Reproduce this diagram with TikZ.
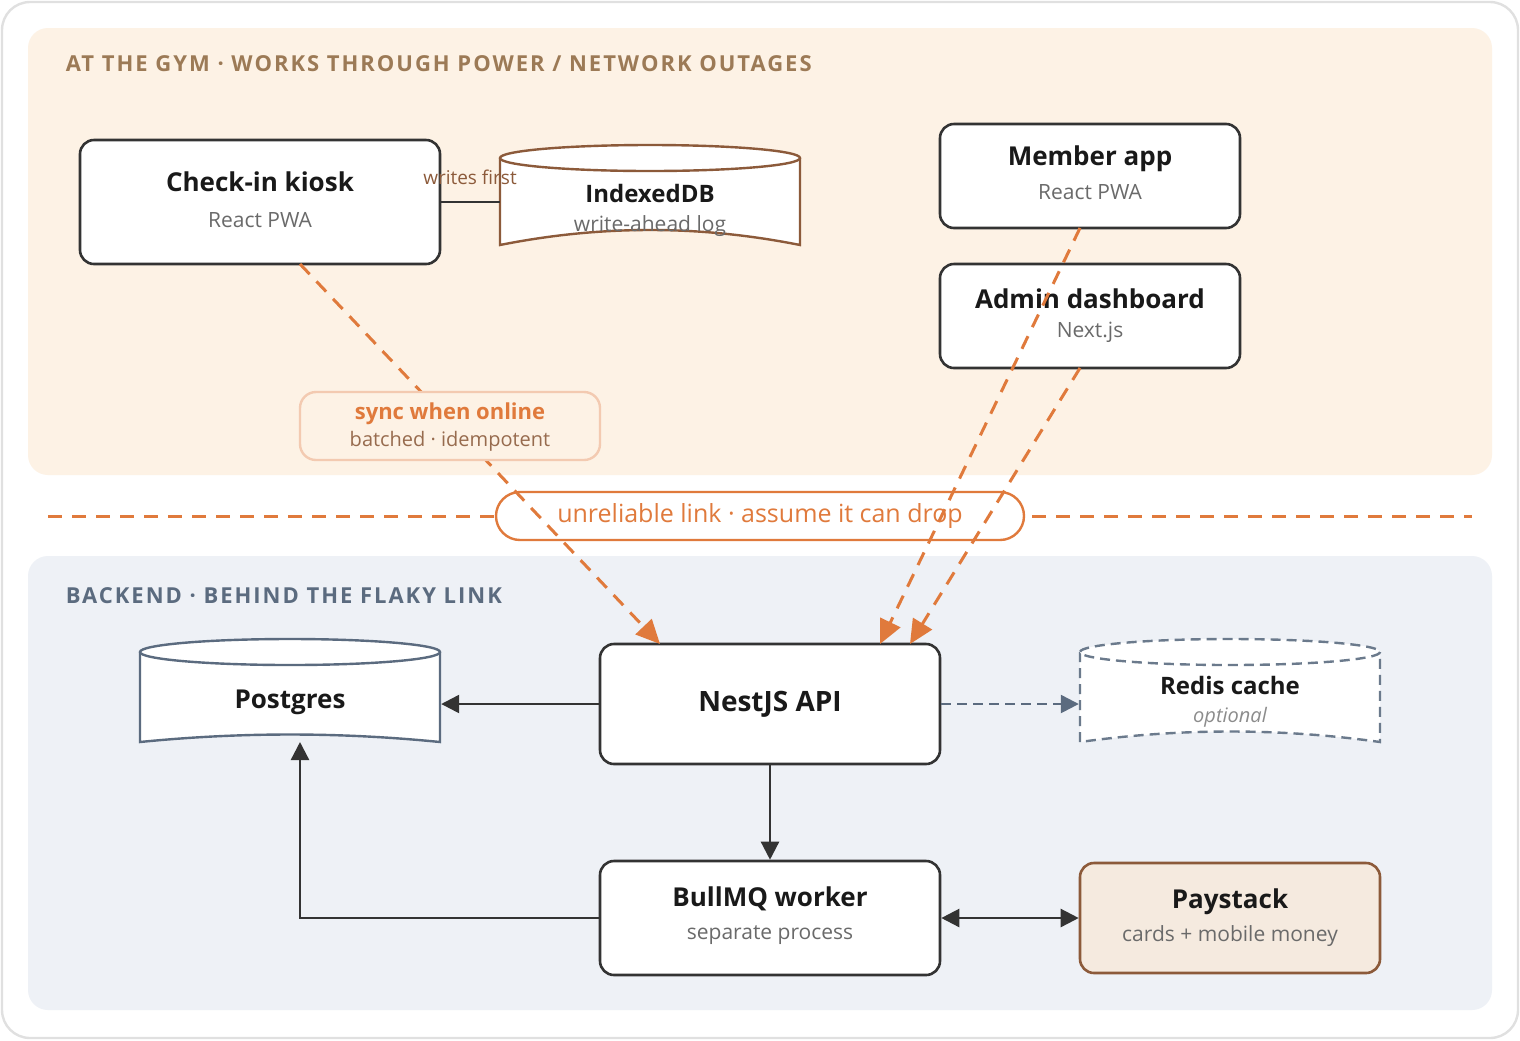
\documentclass[tikz,border=0pt]{standalone}
\usepackage{fontspec}
\setmainfont{Open Sans}
\usetikzlibrary{arrows.meta}
\definecolor{peach}{HTML}{FDF2E5}
\definecolor{slatebg}{HTML}{EEF1F6}
\definecolor{linkorange}{HTML}{E07A3C}
\definecolor{brownline}{HTML}{8C5A3A}
\definecolor{gymtitle}{HTML}{9C7A56}
\definecolor{slate}{HTML}{5B6B7F}
\definecolor{boxline}{HTML}{333333}
\definecolor{subgray}{HTML}{6A6A6A}
\definecolor{paybg}{HTML}{F5EADF}
\newfontfamily\capsfont[LetterSpace=9]{Open Sans}
\tikzset{
  every picture/.style={line width=1.2pt},
  appbox/.style={draw=boxline, fill=white, rounded corners=7pt, line width=1.3pt},
  mainlabel/.style={font=\fontsize{13}{15}\selectfont\bfseries, text=black!90},
  sublabel/.style={font=\fontsize{10.5}{13}\selectfont, text=subgray},
  solidarrow/.style={draw=boxline, line width=1.2pt, -{Triangle[length=9pt,width=9pt]}},
  syncarrow/.style={draw=linkorange, line width=1.5pt, dash pattern=on 7pt off 5pt, -{Triangle[length=12pt,width=11pt]}},
  cyl/.style={fill=white, line width=1.2pt},
}
\begin{document}
\begin{tikzpicture}[x=0.5pt,y=0.5pt,yscale=-1,xscale=1]
        \useasboundingbox (0,0) rectangle (1520,1040);
        % frame and panels
        \draw [draw=black!12, fill=white, rounded corners=14pt] (2,2) rectangle (1518,1038);
        \fill [peach, rounded corners=10pt] (28,28) rectangle (1492,475);
        \fill [slatebg, rounded corners=10pt] (28,556) rectangle (1492,1010);
        \node (gymtitle) [anchor=west, text=gymtitle, font=\capsfont\fontsize{11}{12}\selectfont\bfseries] at (58,64) {AT THE GYM · WORKS THROUGH POWER / NETWORK OUTAGES};
        \node (backtitle) [anchor=west, text=slate, font=\capsfont\fontsize{11}{12}\selectfont\bfseries] at (58,596) {BACKEND · BEHIND THE FLAKY LINK};

        % gym side
        \draw [appbox] (80,140) rectangle (440,264);
        \node (kiosk) at (260,202) {};
        \node [mainlabel] at (260,182) {Check-in kiosk};
        \node [sublabel] at (260,220) {React PWA};

        \draw [brownline, cyl] (500,158) -- (500,245) .. controls (600,225) and (700,225) .. (800,245) -- (800,158);
        \draw [brownline, cyl] (650,158) ellipse [x radius=150, y radius=13];
        \node (idb) at (650,200) {};
        \node [mainlabel, font=\fontsize{12}{14}\selectfont\bfseries] at (650,193) {IndexedDB};
        \node [sublabel] at (650,226) {write-ahead log};
        \draw [boxline] (440,202) -- (500,202);
        \node (writes) [text=brownline, font=\fontsize{9.5}{11}\selectfont] at (470,177) {writes first};

        \draw [appbox] (940,124) rectangle (1240,228);
        \node (member) at (1090,176) {};
        \node [mainlabel] at (1090,159) {Member app};
        \node [sublabel] at (1090,192) {React PWA};

        \draw [appbox] (940,264) rectangle (1240,368);
        \node (admin) at (1090,316) {};
        \node [mainlabel] at (1090,299) {Admin dashboard};
        \node [sublabel] at (1090,332) {Next.js};

        % the flaky link
        \draw [linkorange, line width=1.5pt, dash pattern=on 7pt off 5pt] (48,516) -- (1472,516);
        \node (link) [draw=linkorange, fill=white, rounded corners=12pt, minimum width=264pt, minimum height=24pt, text=linkorange, font=\fontsize{12.5}{14}\selectfont] at (760,516) {unreliable link · assume it can drop};

        % backend
        \draw [slate, cyl] (140,652) -- (140,742) .. controls (240,732) and (340,732) .. (440,742) -- (440,652);
        \draw [slate, cyl] (290,652) ellipse [x radius=150, y radius=13];
        \node (pg) [minimum width=150pt, minimum height=45pt] at (290,704) {};
        \node [mainlabel] at (290,702) {Postgres};

        \draw [slate!90, cyl, dash pattern=on 5pt off 3pt] (1080,652) -- (1080,742) .. controls (1180,728) and (1280,728) .. (1380,742) -- (1380,652);
        \draw [slate!90, cyl, dash pattern=on 5pt off 3pt] (1230,652) ellipse [x radius=150, y radius=13];
        \node (redis) [minimum width=150pt, minimum height=45pt] at (1230,704) {};
        \node [mainlabel, font=\fontsize{12}{14}\selectfont\bfseries] at (1230,685) {Redis cache};
        \node [sublabel, font=\fontsize{10}{12}\selectfont\itshape, text=black!45] at (1230,717) {optional};

        \node (api) [appbox, minimum width=170pt, minimum height=60pt] at (770,704) {};
        \node [mainlabel, font=\fontsize{14}{16}\selectfont\bfseries] at (api) {NestJS API};

        \node (worker) [appbox, minimum width=170pt, minimum height=57pt] at (770,918) {};
        \node [mainlabel] at (770,899) {BullMQ worker};
        \node [sublabel] at (770,935) {separate process};

        \node (pay) [appbox, draw=brownline, fill=paybg, minimum width=150pt, minimum height=55pt] at (1230,918) {};
        \node [mainlabel] at (1230,902) {Paystack};
        \node [sublabel] at (1230,936) {cards + mobile money};

        % connectors
        \draw [solidarrow] (api.west) -- (pg.east);
        \draw [solidarrow, draw=slate, dash pattern=on 5pt off 3pt] (api.east) -- (redis.west);
        \draw [solidarrow] (api.south) -- (worker.north);
        \draw [solidarrow] (worker.west) -| (300,742);
        \draw [solidarrow, {Triangle[length=9pt,width=9pt]}-{Triangle[length=9pt,width=9pt]}] (worker.east) -- (pay.west);

        \draw [syncarrow] (300,264) -- (660,644);
        \draw [syncarrow] (1080,228) -- (880,644);
        \draw [syncarrow] (1080,368) -- (910,644);

        \node (sync) [draw=linkorange!40, fill=peach, rounded corners=8pt, minimum width=150pt, minimum height=34pt] at (450,426) {};
        \node [text=linkorange, font=\fontsize{11}{13}\selectfont\bfseries] at (450,414) {sync when online};
        \node [text=brownline!90, font=\fontsize{10}{12}\selectfont] at (450,441) {batched · idempotent};
\end{tikzpicture}
\end{document}
